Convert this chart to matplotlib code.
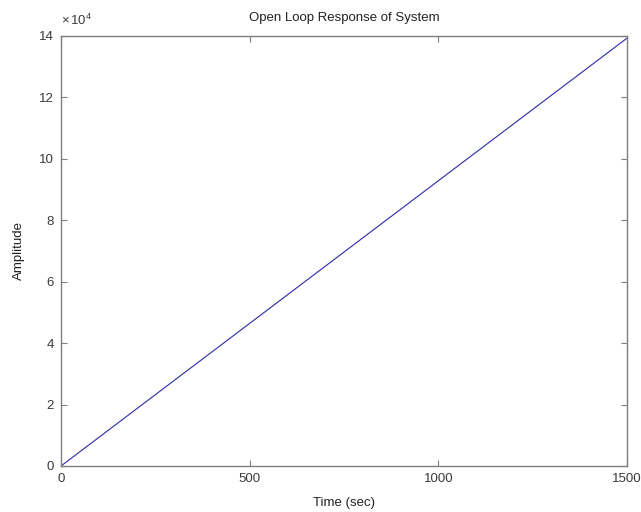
import matplotlib
matplotlib.use("Agg")
import matplotlib.pyplot as plt
from matplotlib.ticker import FuncFormatter

# open loop ramp-like response
time_sec = [0, 1500]
amplitude = [0, 139300]

x_ticks = [0, 500, 1000, 1500]
y_ticks = [0, 20000, 40000, 60000, 80000, 100000, 120000, 140000]
y_scale = 1e4

plt.rcParams['font.family'] = ['Liberation Sans', 'DejaVu Sans']
plt.rcParams['mathtext.fontset'] = 'custom'
plt.rcParams['mathtext.rm'] = 'Liberation Sans'
plt.rcParams['mathtext.it'] = 'Liberation Sans:italic'

TEXT = '#3a3a3a'
EDGE = '#7f7f7f'
FS = 9.5

fig = plt.figure(figsize=(6.41, 5.12), dpi=100)
ax = fig.add_axes([61 / 641, 46 / 512, 566 / 641, 430 / 512])

ax.plot(time_sec, amplitude, color='#2a2aa8', lw=0.8)

ax.set_xlim(0, 1500)
ax.set_ylim(0, 140000)
ax.set_xticks(x_ticks)
ax.set_yticks(y_ticks)
ax.yaxis.set_major_formatter(FuncFormatter(lambda v, pos: f'{v / y_scale:g}'))

# exponent label like matlab
ax.annotate(r'$\times\,10^{4}$', xy=(0, 1), xycoords='axes fraction',
            xytext=(0, 6), textcoords='offset points', ha='left', va='bottom',
            fontsize=FS, color=TEXT)

for s in ax.spines.values():
    s.set_color(EDGE)
    s.set_linewidth(1.0)

ax.tick_params(direction='in', length=4, width=0.8, color=EDGE,
               labelsize=FS, labelcolor=TEXT, top=True, right=True, pad=5)

ax.set_title('Open Loop Response of System', fontsize=FS, color='#222222', pad=11)
ax.set_xlabel('Time (sec)', fontsize=FS, color='#222222', labelpad=9)
ax.set_ylabel('Amplitude', fontsize=FS, color='#222222', labelpad=10)

fig.savefig('out.png', dpi=100)
